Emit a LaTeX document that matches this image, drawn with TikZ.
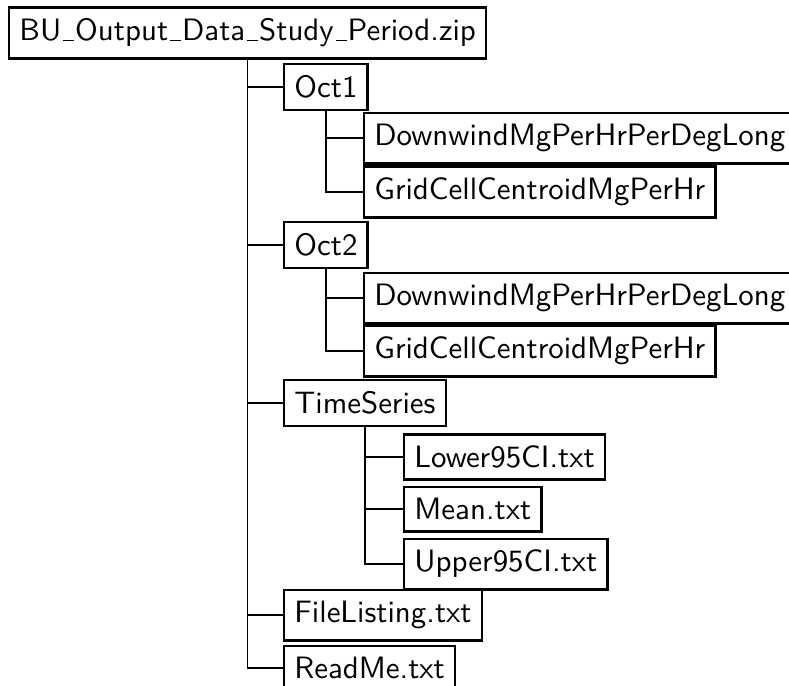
\documentclass[tikz,border=0pt]{standalone}
\renewcommand{\familydefault}{\sfdefault}
\newcommand{\us}{\leavevmode\kern.06em\vbox{\hrule width.36em}\kern.03em}
\tikzset{
  dirbox/.style={draw, line width=0.8pt, anchor=west, inner xsep=3.4pt, inner ysep=3.8pt,
    font=\fontsize{10.3pt}{12pt}\selectfont},
  branch/.style={line width=0.45pt}
}
\begin{document}
\begin{tikzpicture}[x=0.3333pt,y=-0.3333pt]
  \useasboundingbox (0,0) rectangle (789,685);
  % the zip file
  \node[dirbox] (root) at (8,33) {BU\us Output\us Data\us Study\us Period.zip};
  % folders and files
  \node[dirbox] (oct1) at (283,87) {Oct1};
  \node[dirbox] (dwone) at (363,138) {DownwindMgPerHrPerDegLong};
  \node[dirbox] (gcone) at (363,192) {GridCellCentroidMgPerHr};
  \node[dirbox] (oct2) at (283,245) {Oct2};
  \node[dirbox] (dwtwo) at (363,298) {DownwindMgPerHrPerDegLong};
  \node[dirbox] (gctwo) at (363,351) {GridCellCentroidMgPerHr};
  \node[dirbox] (ts) at (283,403) {TimeSeries};
  \node[dirbox] (lower) at (403,457) {Lower95CI.txt};
  \node[dirbox] (mean) at (403,509) {Mean.txt};
  \node[dirbox] (upper) at (403,564) {Upper95CI.txt};
  \node[dirbox] (files) at (283,615) {FileListing.txt};
  \node[dirbox] (readme) at (283,668) {ReadMe.txt};
  % branches
  \foreach \c in {oct1,oct2,ts,files,readme}
    \draw[branch] (root.south) |- (\c.west);
  \foreach \c in {dwone,gcone}
    \draw[branch] (oct1.south) |- (\c.west);
  \foreach \c in {dwtwo,gctwo}
    \draw[branch] (oct2.south) |- (\c.west);
  \foreach \c in {lower,mean,upper}
    \draw[branch] (ts.south) |- (\c.west);
\end{tikzpicture}
\end{document}
